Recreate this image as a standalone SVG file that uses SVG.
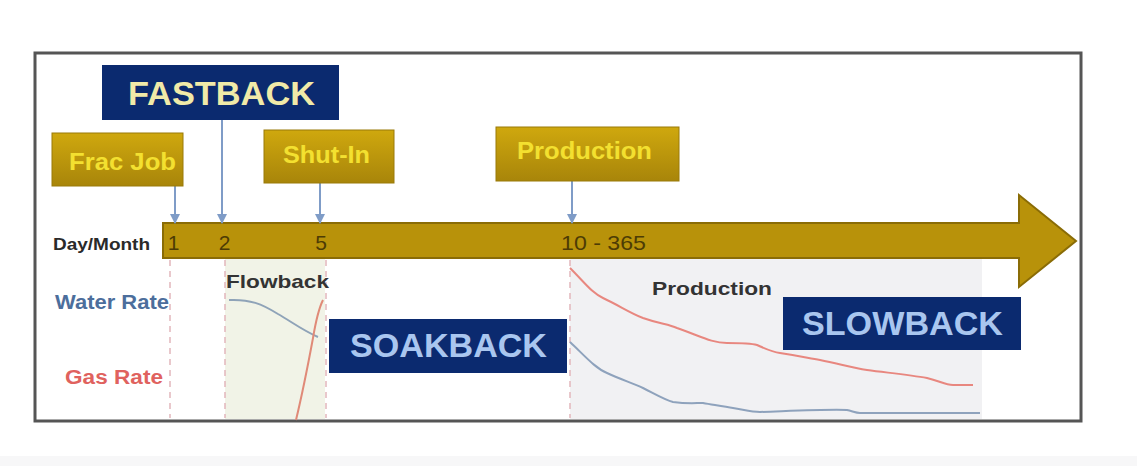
<svg xmlns="http://www.w3.org/2000/svg" width="1137" height="466" viewBox="0 0 1137 466">
  <defs>
    <linearGradient id="gold" x1="0" y1="0" x2="0" y2="1">
      <stop offset="0" stop-color="#cfa80e"/>
      <stop offset="1" stop-color="#a8850a"/>
    </linearGradient>
    <marker id="tip" viewBox="0 0 10 10" refX="9" refY="5" markerWidth="5" markerHeight="5" orient="auto">
      <path d="M0,0 L10,5 L0,10 z" fill="#7f9cc7"/>
    </marker>
  </defs>
  <style>
    .event rect { fill: url(#gold); stroke: #9a7a08; stroke-width: 1; }
    .event text { font-family: "Liberation Sans", Arial, sans-serif; font-weight: bold; font-size: 23px; fill: #f3e030; text-anchor: middle; }
    .phase rect { fill: #0b2a6f; }
    .phase text { font-family: "Liberation Sans", Arial, sans-serif; font-weight: bold; font-size: 33px; fill: #a9c6ef; text-anchor: middle; }
    .phase.top text { fill: #f1eaa8; font-size: 34px; }
    .tick { font-family: "Liberation Sans", Arial, sans-serif; font-size: 21px; fill: #4d3c05; text-anchor: middle; }
    .lbl { font-family: "Liberation Sans", Arial, sans-serif; font-weight: bold; }
    .divider { stroke: #e2b6bc; stroke-width: 1.5; stroke-dasharray: 6 5; fill: none; }
    .link { stroke: #7f9cc7; stroke-width: 2; fill: none; marker-end: url(#tip); }
  </style>

  <rect x="0" y="0" width="1137" height="466" fill="#ffffff"/>
  <rect x="0" y="456" width="1137" height="10" fill="#f7f7f8"/>

  <!-- chart frame -->
  <rect id="frame" x="35" y="53" width="1046" height="368" fill="#ffffff" stroke="#555555" stroke-width="3"/>

  <!-- shaded periods -->
  <rect x="225" y="259" width="100" height="160" fill="#f1f3e7"/>
  <rect x="570" y="259" width="412" height="160" fill="#f1f1f3"/>

  <!-- period dividers -->
  <g id="dividers">
    <line class="divider" x1="170" y1="260" x2="170" y2="418"/>
    <line class="divider" x1="225" y1="260" x2="225" y2="418"/>
    <line class="divider" x1="326" y1="260" x2="326" y2="418"/>
    <line class="divider" x1="570" y1="260" x2="570" y2="418"/>
  </g>

  <!-- rate curves -->
  <g id="curves" fill="none" stroke-width="2">
    <path d="M229,300 C250,299 262,304 278,314 C292,322 302,330 318,337" stroke="#8fa3b8"/>
    <path d="M296,420 C302,395 308,365 313,338 C316,320 319,308 323,300" stroke="#e08a78"/>
    <path d="M570,268 C585,283 592,293 603,298 C620,306 630,313 643,318 C660,324 668,324 677,328 C700,336 712,343 727,343 C742,343 750,343 757,345 C766,349 772,352 780,353 C800,356 808,358 820,360 C840,364 852,368 867,370 C890,373 910,375 927,378 C940,381 945,385 953,385 L973,385" stroke="#e8877f"/>
    <path d="M570,342 C585,356 595,368 607,373 C620,379 632,383 643,388 C655,394 665,400 673,402 C688,404 695,403 703,403 C715,405 725,407 733,408 C745,410 752,412 760,412 C790,411 830,409 847,410 C852,411 856,413 860,413 L980,413" stroke="#8ea2bc"/>
  </g>

  <!-- timeline arrow -->
  <g id="timeline">
    <path d="M163,223 L1019,223 L1019,195 L1076,241 L1019,287 L1019,258 L163,258 Z" fill="#b8920a" stroke="#8a6c06" stroke-width="2" stroke-linejoin="miter"/>
    <text class="tick" x="173.5" y="250">1</text>
    <text class="tick" x="224.5" y="250">2</text>
    <text class="tick" x="321" y="250">5</text>
    <text class="tick" x="603.5" y="250" textLength="85" lengthAdjust="spacingAndGlyphs">10 - 365</text>
  </g>

  <!-- axis labels -->
  <text class="lbl" x="53" y="250" font-size="17" fill="#2a2a2a" textLength="97" lengthAdjust="spacingAndGlyphs">Day/Month</text>
  <text class="lbl" x="55" y="309" font-size="20" fill="#4c6e9c" textLength="114" lengthAdjust="spacingAndGlyphs">Water Rate</text>
  <text class="lbl" x="65" y="384" font-size="20" fill="#e0625e" textLength="98" lengthAdjust="spacingAndGlyphs">Gas Rate</text>
  <text class="lbl" x="226" y="288" font-size="19" fill="#333333" textLength="103" lengthAdjust="spacingAndGlyphs">Flowback</text>
  <text class="lbl" x="652" y="295" font-size="19" fill="#333333" textLength="120" lengthAdjust="spacingAndGlyphs">Production</text>

  <!-- connectors -->
  <g id="connectors">
    <line class="link" x1="175" y1="186" x2="175" y2="223"/>
    <line class="link" x1="222" y1="120" x2="222" y2="223"/>
    <line class="link" x1="320" y1="183" x2="320" y2="223"/>
    <line class="link" x1="572" y1="181" x2="572" y2="223"/>
  </g>

  <!-- event boxes -->
  <g id="frac-job" class="event">
    <rect x="52" y="133" width="131" height="53"/>
    <text x="122.5" y="170" textLength="107" lengthAdjust="spacingAndGlyphs">Frac Job</text>
  </g>
  <g id="shut-in" class="event">
    <rect x="264" y="130" width="130" height="53"/>
    <text x="326.5" y="163" textLength="87" lengthAdjust="spacingAndGlyphs">Shut-In</text>
  </g>
  <g id="production" class="event">
    <rect x="496" y="127" width="183" height="54"/>
    <text x="584.5" y="159" textLength="135" lengthAdjust="spacingAndGlyphs">Production</text>
  </g>

  <!-- phase boxes -->
  <g id="fastback" class="phase top">
    <rect x="102" y="65" width="237" height="55"/>
    <text x="221.5" y="105" textLength="187" lengthAdjust="spacingAndGlyphs">FASTBACK</text>
  </g>
  <g id="soakback" class="phase">
    <rect x="329" y="319" width="238" height="54"/>
    <text x="448.5" y="357" textLength="197" lengthAdjust="spacingAndGlyphs">SOAKBACK</text>
  </g>
  <g id="slowback" class="phase">
    <rect x="783" y="297" width="238" height="53"/>
    <text x="902.5" y="335" textLength="201" lengthAdjust="spacingAndGlyphs">SLOWBACK</text>
  </g>
</svg>
